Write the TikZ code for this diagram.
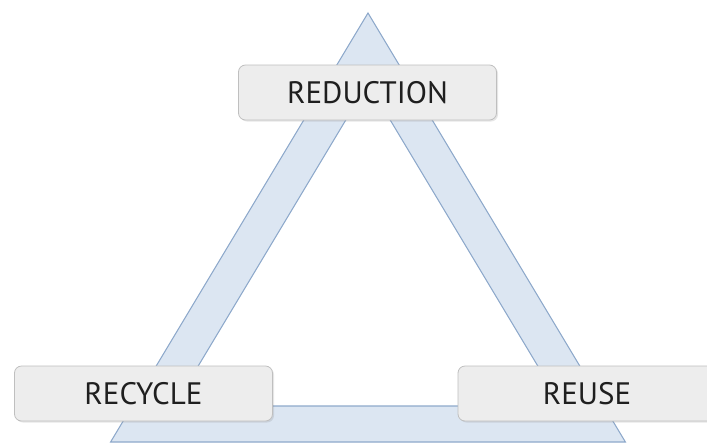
\documentclass[tikz,border=0pt]{standalone}
\usepackage{fontspec}
\setmainfont{PT Sans}
\usetikzlibrary{shadows}

\definecolor{bandfill}{HTML}{DCE6F2}
\definecolor{bandline}{HTML}{8EA9CB}
\definecolor{boxfill}{HTML}{EDEDED}
\definecolor{boxline}{HTML}{BFBFBF}

\begin{document}
\begin{tikzpicture}[x=1pt,y=-1pt,
      band/.style={fill=bandfill,draw=bandline,line width=1.1pt,even odd rule},
      label box/.style={rectangle,rounded corners=7pt,fill=boxfill,draw=boxline,
        line width=0.8pt,minimum width=258pt,minimum height=55pt,
        font=\fontsize{31}{31}\selectfont,text=black!88,
        drop shadow={opacity=0.2,shadow xshift=1.5pt,shadow yshift=-1.5pt}}]
    \useasboundingbox (0,0) rectangle (707,445);

    % outer and inner corners of the triangle
    \coordinate (top) at (368,13);
    \coordinate (left) at (110.6,442);
    \coordinate (right) at (625.4,442);
    \coordinate (itop) at (368,83);
    \coordinate (ileft) at (174.2,406);
    \coordinate (iright) at (561.8,406);

    \path[band] (top) -- (left) -- (right) -- cycle
                (itop) -- (ileft) -- (iright) -- cycle;

    \node[label box] (reduction) at (367.5,92.5) {REDUCTION};
    \node[label box] (recycle) at (143.5,393.5) {RECYCLE};
    \node[label box] (reuse) at (587,393.5) {REUSE};
\end{tikzpicture}
\end{document}
